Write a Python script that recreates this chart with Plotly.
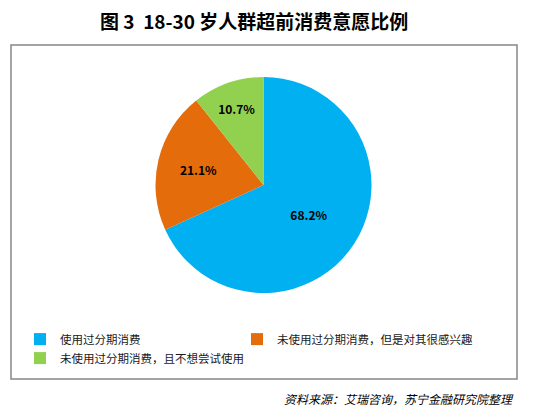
import plotly.graph_objects as go

# Datos del gráfico
categorias = ["使用过分期消费", "未使用过分期消费，但是对其很感兴趣", "未使用过分期消费，且不想尝试使用"]
valores = [68.2, 21.1, 10.7]
colores = ["#00B0F0", "#E46C0A", "#92D050"]

titulo = "图 3  18-30 岁人群超前消费意愿比例"
fuente = "资料来源：艾瑞咨询，苏宁金融研究院整理"

# la página tiene 8px de margen en el body, se compensa achicando la figura
OFF = 8
W, H = 534 - OFF, 406 - OFF
fuente_cjk = "Noto Sans CJK SC"


def px(x):
    return (x - OFF) / W


def py(y):
    return (H - (y - OFF)) / H


fig = go.Figure()

fig.add_trace(go.Pie(
    labels=categorias,
    values=valores,
    sort=False,
    direction="clockwise",
    rotation=0,
    marker=dict(colors=colores, line=dict(width=0)),
    texttemplate="%{value:.1f}%",
    textposition="inside",
    insidetextorientation="horizontal",
    textfont=dict(family=fuente_cjk, size=12, color="#000000", weight="bold"),
    domain=dict(x=[px(155), px(372)], y=[py(293), py(77)]),
    hoverinfo="label+percent",
))

fig.update_layout(
    width=W,
    height=H,
    margin=dict(l=0, r=0, t=0, b=0),
    paper_bgcolor="white",
    plot_bgcolor="white",
    font=dict(family=fuente_cjk, size=12, color="#000000"),
    showlegend=True,
    legend=dict(
        orientation="h",
        x=px(20), xanchor="left",
        y=py(309), yanchor="top",
        entrywidth=172,
        entrywidthmode="pixels",
        bgcolor="rgba(0,0,0,0)",
        font=dict(family=fuente_cjk, size=11.5, color="#1a1a1a"),
        # título vacío arriba para que el recorte de la leyenda no corte el segundo texto
        title=dict(text="\u00a0" * 170, side="top", font=dict(size=12)),
        itemclick=False,
    ),
    shapes=[dict(
        type="rect", xref="paper", yref="paper",
        x0=px(11), x1=px(517), y0=py(379), y1=py(45),
        line=dict(color="#878787", width=1.5), fillcolor="rgba(0,0,0,0)",
        layer="below",
    )],
    annotations=[
        dict(text=f"<b>{titulo}</b>", xref="paper", yref="paper",
             x=px(254), y=py(21), xanchor="center", yanchor="middle",
             showarrow=False, borderpad=0,
             font=dict(family=fuente_cjk, size=19, color="#000000")),
        dict(text=f"<i>{fuente}</i>", xref="paper", yref="paper",
             x=px(515), y=py(398), xanchor="right", yanchor="middle",
             showarrow=False, borderpad=0,
             font=dict(family=fuente_cjk, size=12, color="#000000")),
    ],
)

fig.write_html("out.html", config={"displayModeBar": False})
